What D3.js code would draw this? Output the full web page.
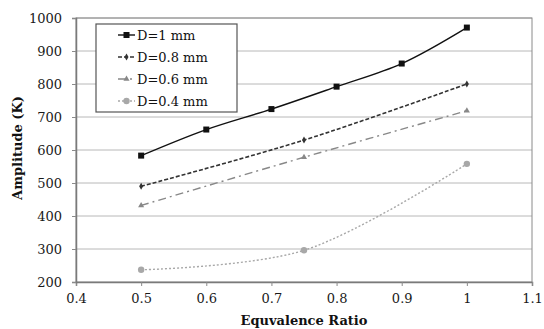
<!DOCTYPE html>
<html>
<head>
<meta charset="utf-8">
<script src="https://cdn.jsdelivr.net/npm/d3@7"></script>
<style>
  body { margin: 0; background: #fff; }
  text { font-family: "DejaVu Serif", serif; }
</style>
</head>
<body>
<svg id="chart" width="544" height="329"></svg>
<script>
// data
var xTicks = [0.4, 0.5, 0.6, 0.7, 0.8, 0.9, 1, 1.1];
var yTicks = [200, 300, 400, 500, 600, 700, 800, 900, 1000];

var d1x = [0.5, 0.6, 0.7, 0.8, 0.9, 1];
var d1y = [583, 662, 724, 792, 862, 971];
var d08x = [0.5, 0.75, 1];
var d08y = [490, 630, 800];
var d06x = [0.5, 0.75, 1];
var d06y = [432, 578, 719];
var d04x = [0.5, 0.75, 1];
var d04y = [237, 296, 558];

var seriesNames = ["D=1 mm", "D=0.8 mm", "D=0.6 mm", "D=0.4 mm"];

var svg = d3.select("#chart");
var plotL = 76, plotR = 532, plotT = 18, plotB = 282;

var x = d3.scaleLinear().domain([0.4, 1.1]).range([plotL, plotR]);
var y = d3.scaleLinear().domain([200, 1000]).range([plotB, plotT]);

// gridlines
svg.append("g").selectAll("line").data(yTicks.slice(1)).enter().append("line")
    .attr("x1", plotL).attr("x2", plotR)
    .attr("y1", function(d) { return y(d); }).attr("y2", function(d) { return y(d); })
    .attr("stroke", "#b8b8b8").attr("stroke-width", 1);

// plot frame
svg.append("rect").attr("x", plotL).attr("y", plotT)
    .attr("width", plotR - plotL).attr("height", plotB - plotT)
    .attr("fill", "none").attr("stroke", "#8a8a8a").attr("stroke-width", 1);

// axes
var xAxis = svg.append("g").attr("transform", "translate(0," + plotB + ")")
    .call(d3.axisBottom(x).tickValues(xTicks).tickSize(4).tickPadding(8)
        .tickFormat(function(d) { return d3.format("")(+d.toFixed(1)); }));
var yAxis = svg.append("g").attr("transform", "translate(" + plotL + ",0)")
    .call(d3.axisLeft(y).tickValues(yTicks).tickSize(4).tickPadding(10).tickFormat(d3.format("d")));

[xAxis, yAxis].forEach(function(a) {
    a.select(".domain").attr("stroke", "#7a7a7a").attr("stroke-width", 1.5);
    a.selectAll(".tick line").attr("stroke", "#8a8a8a");
    a.selectAll(".tick text").attr("font-family", "DejaVu Serif").attr("font-size", 13).attr("fill", "#1a1a1a");
});

// series
var series = [
    {name: seriesNames[0], xs: d1x, ys: d1y, color: "#111", dash: null, marker: "square", width: 1.4},
    {name: seriesNames[1], xs: d08x, ys: d08y, color: "#333", dash: "4,2", marker: "diamond", width: 1.6},
    {name: seriesNames[2], xs: d06x, ys: d06y, color: "#888", dash: "8,4,2,4", marker: "triangle", width: 1.4},
    {name: seriesNames[3], xs: d04x, ys: d04y, color: "#a8a8a8", dash: "2,2", marker: "circle", width: 1.4}
];

var line = d3.line()
    .x(function(d) { return x(d[0]); })
    .y(function(d) { return y(d[1]); })
    .curve(d3.curveCatmullRom.alpha(0.5));

function drawMarker(g, type, cx, cy, color) {
    if (type == "square") {
        g.append("rect").attr("x", cx - 3).attr("y", cy - 3).attr("width", 6).attr("height", 6).attr("fill", color);
    } else if (type == "diamond") {
        g.append("path").attr("d", d3.symbol().type(d3.symbolDiamond).size(14)()).attr("transform", "translate(" + cx + "," + cy + ")").attr("fill", color);
    } else if (type == "triangle") {
        g.append("path").attr("d", d3.symbol().type(d3.symbolTriangle).size(16)()).attr("transform", "translate(" + cx + "," + cy + ")").attr("fill", color);
    } else {
        g.append("circle").attr("cx", cx).attr("cy", cy).attr("r", 3.2).attr("fill", color);
    }
}

series.slice().reverse().forEach(function(s) {
    var pts = s.xs.map(function(v, i) { return [v, s.ys[i]]; });
    var g = svg.append("g");
    g.append("path").datum(pts).attr("d", line)
        .attr("fill", "none").attr("stroke", s.color).attr("stroke-width", s.width)
        .attr("stroke-dasharray", s.dash);
    pts.forEach(function(p) { drawMarker(g, s.marker, x(p[0]), y(p[1]), s.color); });
});

// legend
var lg = svg.append("g");
lg.append("rect").attr("x", 96).attr("y", 24).attr("width", 141).attr("height", 88)
    .attr("fill", "#fff").attr("stroke", "#555").attr("stroke-width", 1.2);
series.forEach(function(s, i) {
    var cy = 35 + i * 22;
    lg.append("line").attr("x1", 118).attr("x2", 135).attr("y1", cy).attr("y2", cy)
        .attr("stroke", s.color).attr("stroke-width", s.width).attr("stroke-dasharray", s.dash);
    drawMarker(lg, s.marker, 126.5, cy, s.color);
    lg.append("text").attr("x", 137).attr("y", cy + 4.5).attr("font-size", 13).attr("fill", "#111").text(s.name);
});

// axis titles
svg.append("text").attr("x", 304).attr("y", 325).attr("text-anchor", "middle")
    .attr("font-size", 13).attr("font-weight", "bold").attr("fill", "#111").text("Equvalence Ratio");
svg.append("text").attr("transform", "translate(22,148) rotate(-90)").attr("text-anchor", "middle")
    .attr("font-size", 13).attr("font-weight", "bold").attr("fill", "#111").text("Amplitude (K)");
</script>
</body>
</html>
